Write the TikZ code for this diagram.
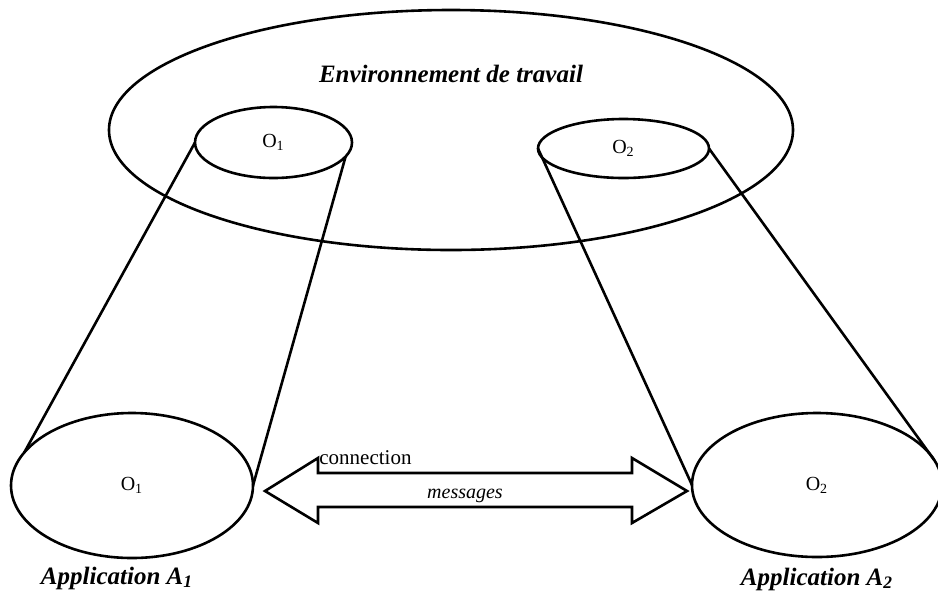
\documentclass[tikz,border=0pt]{standalone}
\usepackage{fontspec}
\setmainfont{Liberation Serif}
\usepackage{tikz}
\usetikzlibrary{shapes.geometric}

\begin{document}
\begin{tikzpicture}[x=0.5pt, y=-0.5pt,
    objet/.style={ellipse, draw, line width=1.3pt, inner sep=0pt, outer sep=0pt,
      font=\fontsize{10}{12}\selectfont},
    titre/.style={inner sep=0pt, font=\fontsize{12.5}{15}\selectfont\bfseries\itshape}]
  \useasboundingbox (0,0) rectangle (938,591);

  % Environnement (big ellipse)
  \node[objet, minimum width=342pt, minimum height=120pt] (env) at (451,130) {};
  \node[titre, anchor=base] (envlabel) at (451,82) {Environnement de travail};

  % Objects seen in the environment
  \node[objet, minimum width=78.5pt, minimum height=35.5pt] (o1) at (273.5,142.5) {O\textsubscript{1}};
  \node[objet, minimum width=85.5pt, minimum height=29.5pt] (o2) at (623.5,148.5) {O\textsubscript{2}};

  % Applications
  \node[objet, minimum width=121pt, minimum height=72.5pt] (app1) at (132,485.5) {O\textsubscript{1}};
  \node[objet, minimum width=125pt, minimum height=72pt] (app2) at (817,485) {O\textsubscript{2}};
  \node[titre, anchor=base] (app1label) at (117,584) {Application A\textsubscript{1}};
  \node[titre, anchor=base] (app2label) at (817,585) {Application A\textsubscript{2}};

  % Projection lines
  \draw[line width=1.3pt] (o1.west) -- (app1.163.5);
  \draw[line width=1.3pt] (o1.-11.5) -- (app1.east);
  \draw[line width=1.3pt] (o2.west) -- (app2.west);
  \draw[line width=1.3pt] (o2.east) -- (app2.12.7);

  % Double block arrow between applications
  \draw[line width=1.3pt] (265,491) -- (318,458) -- (318,473) -- (632,473) -- (632,458)
    -- (687,491) -- (632,523) -- (632,507) -- (318,507) -- (318,523) -- cycle;
  \node[anchor=base west, inner sep=0pt, font=\fontsize{10.5}{12}\selectfont] (conn) at (319,464) {connection};
  \node[anchor=base, inner sep=0pt, font=\fontsize{10}{12}\selectfont\itshape] (msg) at (465,498) {messages};
\end{tikzpicture}
\end{document}
